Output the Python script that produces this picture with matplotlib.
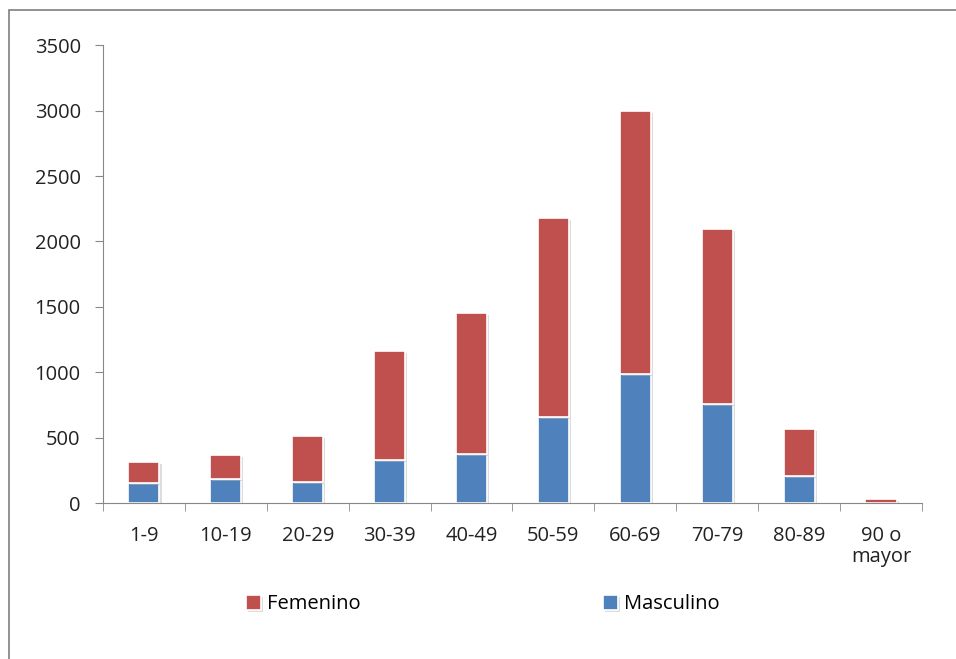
import matplotlib
matplotlib.use("Agg")
import matplotlib.pyplot as plt
import matplotlib.patheffects as pe
from matplotlib.patches import Rectangle
import numpy as np

# age groups and counts
grupos = ['1-9', '10-19', '20-29', '30-39', '40-49', '50-59', '60-69', '70-79', '80-89', '90 o\nmayor']
masculino = [159, 187, 166, 334, 375, 660, 986, 762, 210, 0]
femenino = [160, 183, 349, 828, 1079, 1519, 2014, 1331, 356, 37]

plt.rcParams['font.family'] = ['Open Sans', 'DejaVu Sans']

fig = plt.figure(figsize=(9.56, 6.59), dpi=100)
ax = fig.add_axes([0.1077, 0.236, 0.8567, 0.6957])

# outer chart frame
fig.patches.append(Rectangle((0.0095, -0.01), 1.0, 0.995, transform=fig.transFigure,
                             fill=False, edgecolor='#7f7f7f', linewidth=1.2))

x = np.arange(len(grupos))
shadow = [pe.SimplePatchShadow(offset=(1.5, -1.5), shadow_rgbFace='#bbbbbb', alpha=0.5), pe.Normal()]
b1 = ax.bar(x, masculino, width=0.38, color='#4F81BD', edgecolor='white', linewidth=1.2,
            label='Masculino', path_effects=shadow, zorder=2)
b2 = ax.bar(x, femenino, width=0.38, bottom=masculino, color='#C0504D', edgecolor='white',
            linewidth=1.2, label='Femenino', path_effects=shadow, zorder=2)

ax.set_xlim(-0.5, len(grupos) - 0.5)
ax.set_ylim(0, 3500)
ax.set_yticks(range(0, 3501, 500))
ax.set_xticks(x)
ax.set_xticklabels(grupos, fontsize=14.5, color='#222222', linespacing=1.1)
ax.set_xticks(np.arange(-0.5, len(grupos), 1), minor=True)
ax.tick_params(axis='x', which='major', length=0, pad=16)
ax.tick_params(axis='x', which='minor', length=6, color='#888888')
ax.tick_params(axis='y', length=6, color='#888888', labelsize=14.5, labelcolor='#222222', pad=10)

for s in ['top', 'right']:
    ax.spines[s].set_visible(False)
for s in ['left', 'bottom']:
    ax.spines[s].set_color('#888888')

fig.legend([b2, b1], ['Femenino', 'Masculino'], loc='center', bbox_to_anchor=(0.505, 0.083),
           ncol=2, frameon=False, fontsize=14.5, handlelength=0.75, handleheight=0.75,
           handletextpad=0.3, columnspacing=12)

fig.savefig('out.png', dpi=100)
